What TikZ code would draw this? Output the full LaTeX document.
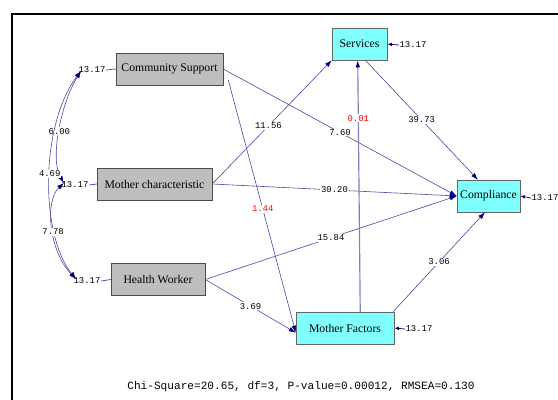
\documentclass[tikz,border=0pt]{standalone}
\usepackage{fontspec}
\setmainfont{Liberation Serif}
\newfontfamily\pathfont{Liberation Mono}
\usetikzlibrary{arrows.meta}
\definecolor{pathblue}{RGB}{70,70,165}
\definecolor{tipblue}{RGB}{0,0,128}
\definecolor{boxgray}{RGB}{190,190,190}
\definecolor{boxcyan}{RGB}{128,255,255}
\begin{document}
\begin{tikzpicture}[x=0.03cm,y=-0.03cm,
    varbox/.style={draw=black!70,fill=boxgray,minimum height=0.96cm,inner sep=0pt,font=\fontsize{10}{12}\selectfont},
    latbox/.style={varbox,fill=boxcyan,draw=black!60},
    coef/.style={fill=white,inner sep=0.8pt,font=\pathfont\fontsize{7.6}{9}\selectfont},
    errtxt/.style={inner sep=0.5pt,font=\pathfont\fontsize{7.6}{9}\selectfont},
    path/.style={draw=pathblue,line width=0.5pt,-{Latex[length=6pt,width=4pt,color=tipblue]}},
    cov/.style={draw=pathblue,line width=0.5pt,{Latex[length=6pt,width=4pt,color=tipblue]}-{Latex[length=6pt,width=4pt,color=tipblue]}},
    err/.style={draw=tipblue,line width=0.6pt,-{Latex[length=4pt,width=3pt]}}]
    \useasboundingbox (0,0) rectangle (558,400);
    % frame
    \draw [line width=1.5pt] (12,400) -- (12,14) -- (558,14);
    % observed variables
    \node [varbox,minimum width=3.21cm] (cs) at (169.5,69) {Community Support};
    \node [varbox,minimum width=3.45cm] (mc) at (154.5,184) {Mother characteristic};
    \node [varbox,minimum width=2.82cm] (hw) at (158,279.5) {Health Worker};
    % latent variables
    \node [latbox,minimum width=1.65cm] (sv) at (359.5,44) {Services};
    \node [latbox,minimum width=1.89cm] (cp) at (488.5,196) {Compliance};
    \node [latbox,minimum width=2.94cm] (mf) at (345,328) {Mother Factors};
    % error terms
    \node [errtxt] (ecs) at (92,70) {13.17};
    \node [errtxt] (emc) at (75,185) {13.17};
    \node [errtxt] (ehw) at (87,281) {13.17};
    \node [errtxt] (esv) at (413,45) {13.17};
    \node [errtxt] (ecp) at (545,198) {13.17};
    \node [errtxt] (emf) at (419,329) {13.17};
    \draw [pathblue,line width=0.6pt] (ecs.east) -- (cs.west);
    \draw [pathblue,line width=0.6pt] (emc.east) -- (mc.west);
    \draw [pathblue,line width=0.6pt] (ehw.east) -- (hw.west);
    \draw [err] (esv.west) -- (sv.east);
    \draw [err] (ecp.west) -- (cp.east);
    \draw [err] (emf.west) -- (mf.east);
    % covariances
    \coordinate (tcs) at (81,71);
    \coordinate (tmc) at (64,183);
    \coordinate (thw) at (76,279);
    \draw [cov] (tcs) .. controls (60,105) and (50,160) .. (tmc) node [coef,pos=0.5] {6.00};
    \draw [cov] (tcs) .. controls (40,125) and (40,235) .. (thw) node [coef,pos=0.48] {4.69};
    \draw [cov] (tmc) .. controls (45,200) and (48,250) .. (thw) node [coef,pos=0.55] {7.78};
    % paths
    \draw [path] (mc.east) -- (sv.south west) node [coef,pos=0.47] {11.56};
    \draw [path] (cs.east) -- (cp.west) node [coef,pos=0.5] {7.60};
    \draw [path] ([xshift=4.3pt,yshift=-9.4pt]cs.east) -- ([yshift=-4pt]mf.west) node [coef,pos=0.51,text=red] {1.44};
    \draw [path] (mc.east) -- (cp.west) node [coef,pos=0.5] {30.20};
    \draw [path] (hw.east) -- (cp.west) node [coef,pos=0.5] {15.84};
    \draw [path] (hw.east) -- ([yshift=-4pt]mf.west) node [coef,pos=0.5] {3.69};
    \draw [path,draw=pathblue!70,line width=1pt] ([xshift=13pt]mf.north) -- ([xshift=-1.5pt]sv.south) node [coef,pos=0.77,text=red] {0.01};
    \draw [path] ([xshift=5pt]sv.south) -- ([xshift=-9pt]cp.north) node [coef,pos=0.5] {39.73};
    \draw [path] ([xshift=-1pt]mf.north east) -- ([xshift=-3pt]cp.south) node [coef,pos=0.5] {3.06};
    % fit line
    \node [font=\pathfont\fontsize{9.5}{11}\selectfont] (fit) at (301,387) {Chi-Square=20.65, df=3, P-value=0.00012, RMSEA=0.130};
\end{tikzpicture}
\end{document}
